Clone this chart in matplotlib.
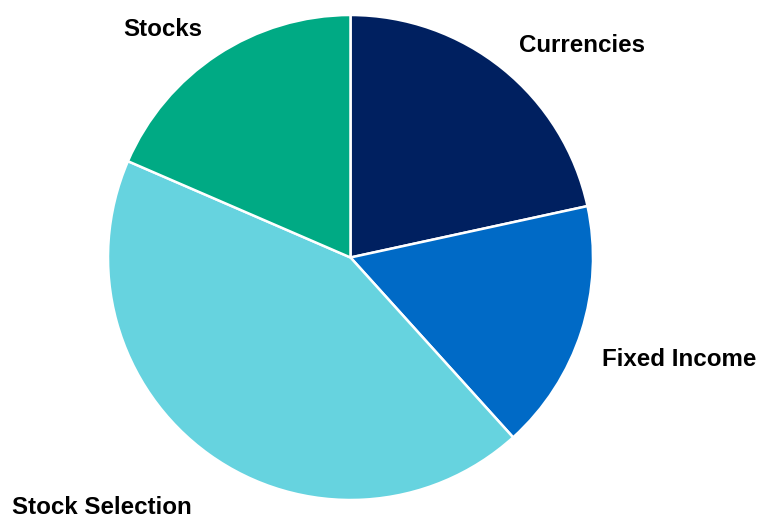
import matplotlib
matplotlib.use('Agg')
import matplotlib.pyplot as plt

# slice data, clockwise from 12 o'clock
labels = ['Currencies', 'Fixed Income', 'Stock Selection', 'Stocks']
shares = [21.6, 16.7, 43.2, 18.5]
colors = ['#002060', '#006AC6', '#66D3DF', '#00AA84']

# label anchor points in pixels (left edge, vertical centre), measured from top
label_pos = [(519, 45), (602, 359), (12, 508), (123, 30)]

plt.rcParams['font.family'] = ['Liberation Sans', 'DejaVu Sans']

W, H = 757, 518
fig = plt.figure(figsize=(W/100, H/100), dpi=100)
ax = fig.add_axes([0, 0, 1, 1])

ax.pie(shares, colors=colors, startangle=90, counterclock=False,
       center=(350.5, H - 257.5), radius=242.5, frame=True,
       wedgeprops=dict(edgecolor='white', linewidth=1.8))
ax.set_xlim(0, W)
ax.set_ylim(0, H)
ax.set_aspect('equal')
ax.axis('off')

for lab, (x, y) in zip(labels, label_pos):
    ax.text(x, H - y, lab, ha='left', va='center', fontsize=17.4,
            fontweight='bold', color='black')

fig.savefig('out.png', dpi=100)
